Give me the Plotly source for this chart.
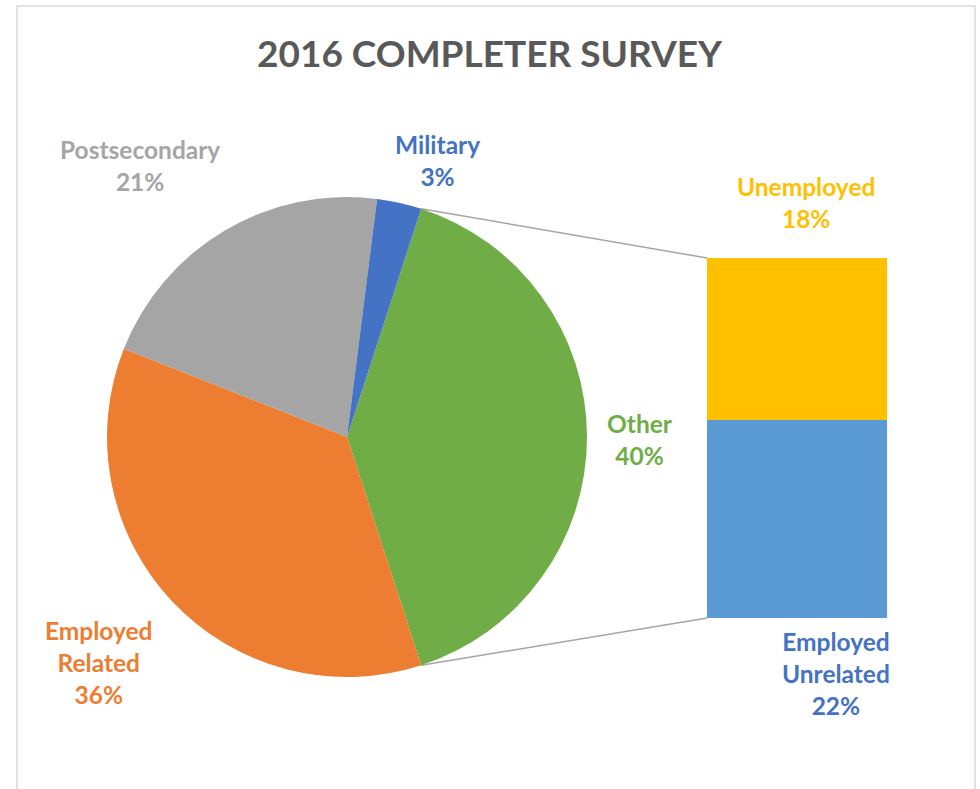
import math
import plotly.graph_objects as go

# ---- data ----
title_text = "2016 COMPLETER SURVEY"
pie_labels = ["Employed Related", "Postsecondary", "Military"]
pie_values = [36, 21, 3]
bar_labels = ["Employed Unrelated", "Unemployed"]   # bottom -> top
bar_values = [22, 18]
other_label = "Other"

pie_colors = {"Other": "#70AD47", "Employed Related": "#ED7D31",
              "Postsecondary": "#A5A5A5", "Military": "#4472C4"}
bar_colors = {"Employed Unrelated": "#5B9BD5", "Unemployed": "#FFC000"}
label_colors = {"Other": "#70AD47", "Employed Related": "#ED7D31",
                "Postsecondary": "#A5A5A5", "Military": "#4472C4",
                "Employed Unrelated": "#4472C4", "Unemployed": "#FFC000"}

W, H = 980, 789
FONT = "Lato"

other_value = sum(bar_values)
all_labels = [other_label] + pie_labels
all_values = [other_value] + pie_values
total = sum(all_values)

# pie geometry (pixels)
cx, cy, r = 347, 437, 240
rotation = 90 - 180 * other_value / total   # centre "Other" slice at 3 o'clock

pie_dom_x = [(cx - r) / W, (cx + r) / W]
pie_dom_y = [(H - cy - r) / H, (H - cy + r) / H]

# bar geometry (pixels)
bx0, bx1, by_top, by_bot = 707, 887, 258, 618
bar_dom_x = [bx0 / W, bx1 / W]
bar_dom_y = [(H - by_bot) / H, (H - by_top) / H]

fig = go.Figure()

fig.add_trace(go.Pie(
    labels=all_labels, values=all_values, sort=False, direction="clockwise",
    rotation=rotation, textinfo="none", hoverinfo="label+percent",
    marker=dict(colors=[pie_colors[l] for l in all_labels], line=dict(width=0)),
    domain=dict(x=pie_dom_x, y=pie_dom_y), showlegend=False,
))

for lab, val in zip(bar_labels, bar_values):
    fig.add_trace(go.Bar(
        x=[0], y=[val], name=lab, width=1,
        marker=dict(color=bar_colors[lab], line=dict(width=0)),
        showlegend=False, xaxis="x", yaxis="y",
    ))

# connector lines from "Other" slice edges to bar corners
def pie_point(angle_deg):
    a = math.radians(angle_deg)
    px = cx + r * math.sin(a)
    py = cy - r * math.cos(a)
    return px / W, 1 - py / H

a_start = rotation
a_end = rotation + 360 * other_value / total
p1 = pie_point(a_start)
p2 = pie_point(a_end)
shapes = [
    dict(type="line", xref="paper", yref="paper", x0=p1[0], y0=p1[1],
         x1=bar_dom_x[0], y1=bar_dom_y[1], line=dict(color="#A5A5A5", width=1.5), layer="below"),
    dict(type="line", xref="paper", yref="paper", x0=p2[0], y0=p2[1],
         x1=bar_dom_x[0], y1=bar_dom_y[0], line=dict(color="#A5A5A5", width=1.5), layer="below"),
    dict(type="rect", xref="paper", yref="paper", x0=17 / W, x1=975 / W,
         y0=-0.02, y1=1 - 6 / H, line=dict(color="#D9D9D9", width=1.5),
         fillcolor="rgba(0,0,0,0)", layer="below"),
]

# data labels
label_pos = {
    "Postsecondary": (140, 165),
    "Military": (437, 160),
    "Unemployed": (806, 202),
    "Other": (640, 440),
    "Employed Related": (99, 662),
    "Employed Unrelated": (836, 673),
}
value_of = dict(zip(all_labels, all_values))
value_of.update(dict(zip(bar_labels, bar_values)))

annotations = []
for lab, (px, py) in label_pos.items():
    pct = round(100 * value_of[lab] / total)
    annotations.append(dict(
        x=px / W, y=1 - py / H, xref="paper", yref="paper",
        text="<b>" + lab.replace(" ", "<br>") + "<br>" + f"{pct}%" + "</b>",
        showarrow=False, xanchor="center", yanchor="middle",
        font=dict(family=FONT, size=24.5, color=label_colors[lab]),
    ))

annotations.append(dict(
    x=490 / W, y=1 - 52 / H, xref="paper", yref="paper", text="<b>" + title_text + "</b>",
    showarrow=False, xanchor="center", yanchor="middle",
    font=dict(family=FONT, size=37, color="#595959"),
))

fig.update_layout(
    width=W, height=H, autosize=False,
    margin=dict(l=0, r=0, t=0, b=0),
    paper_bgcolor="white", plot_bgcolor="rgba(0,0,0,0)",
    barmode="stack", bargap=0,
    xaxis=dict(domain=bar_dom_x, range=[-0.5, 0.5], visible=False, fixedrange=True),
    yaxis=dict(domain=bar_dom_y, range=[0, other_value], visible=False, fixedrange=True),
    shapes=shapes, annotations=annotations,
)

fig.write_html("out.html")
